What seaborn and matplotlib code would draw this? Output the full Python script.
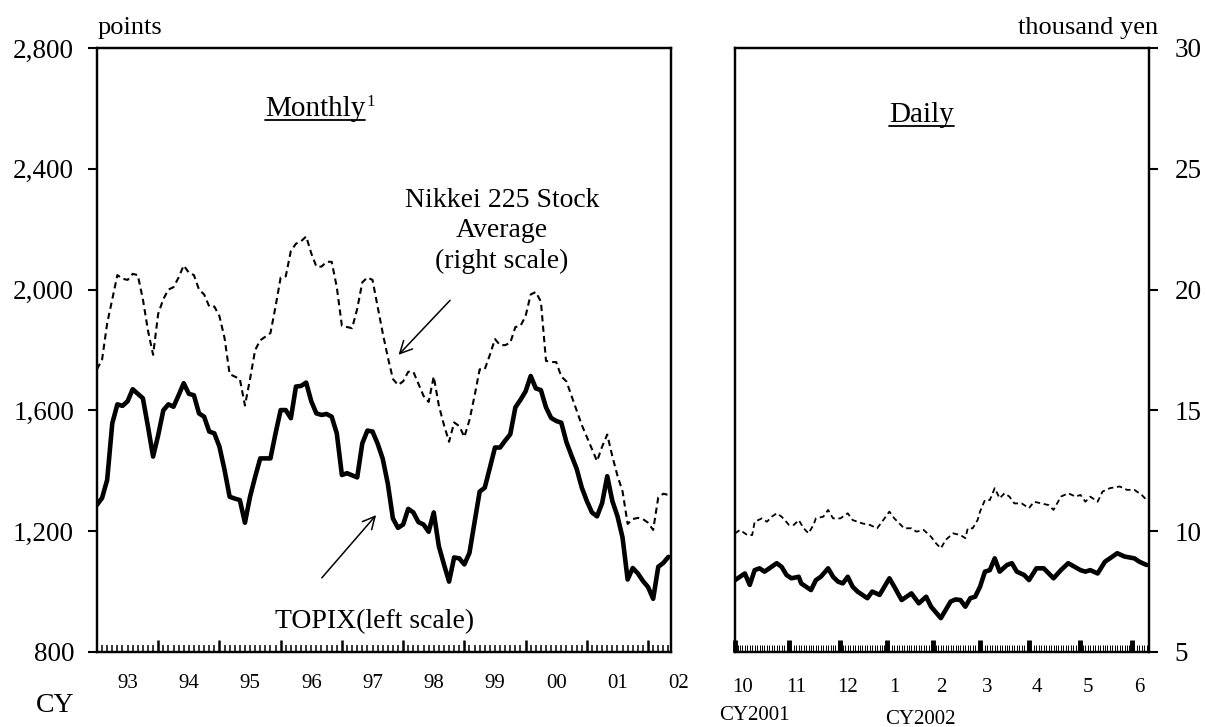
import matplotlib
matplotlib.use("Agg")
import numpy as np
import pandas as pd
import matplotlib.pyplot as plt
import seaborn as sns
from matplotlib.lines import Line2D

# ---- monthly data, Jan 1993 .. May 2002 ----
topix_monthly = [
    1287, 1310, 1370, 1557, 1620, 1615, 1630, 1670, 1655, 1640, 1546, 1447,   # 93
    1518, 1600, 1620, 1612, 1650, 1690, 1655, 1650, 1590, 1579, 1530, 1524,   # 94
    1480, 1403, 1314, 1308, 1303, 1228, 1314, 1380, 1441, 1441, 1441, 1524,   # 95
    1601, 1601, 1574, 1679, 1681, 1692, 1630, 1590, 1585, 1588, 1579, 1524,   # 96
    1386, 1392, 1385, 1378, 1491, 1533, 1530, 1490, 1440, 1357, 1242, 1211,   # 97
    1222, 1274, 1262, 1230, 1222, 1198, 1262, 1150, 1090, 1033, 1113, 1110,   # 98
    1090, 1128, 1230, 1331, 1344, 1410, 1477, 1477, 1500, 1521, 1610, 1635,   # 99
    1663, 1714, 1673, 1667, 1610, 1575, 1565, 1559, 1495, 1450, 1407, 1345,   # 00
    1300, 1262, 1249, 1293, 1382, 1300, 1250, 1179, 1040, 1078, 1060, 1035,   # 01
    1015, 976, 1082, 1095, 1115,                                              # 02
]
nikkei_monthly = [
    16.7, 17.1, 18.6, 19.6, 20.6, 20.45, 20.4, 20.65, 20.6, 19.6, 18.3, 17.3,
    19.0, 19.6, 20.0, 20.1, 20.5, 21.0, 20.7, 20.6, 20.0, 19.8, 19.3, 19.3,
    18.9, 18.0, 16.5, 16.4, 16.3, 15.2, 16.3, 17.5, 17.9, 18.05, 18.2, 19.3,
    20.5, 20.55, 21.6, 21.9, 22.0, 22.2, 21.5, 20.95, 20.95, 21.15, 21.15, 20.1,
    18.5, 18.45, 18.4, 19.2, 20.3, 20.5, 20.4, 19.3, 18.2, 17.2, 16.3, 16.05,
    16.2, 16.6, 16.6, 16.1, 15.6, 15.35, 16.4, 15.2, 14.4, 13.7, 14.5, 14.35,
    13.9, 14.6, 15.6, 16.7, 16.7, 17.3, 17.95, 17.7, 17.7, 17.8, 18.45, 18.5,
    18.9, 19.8, 19.9, 19.5, 17.05, 17.0, 17.0, 16.4, 16.2, 15.6, 15.0, 14.4,
    13.9, 13.4, 12.9, 13.5, 14.0, 13.1, 12.3, 11.65, 10.3, 10.5, 10.55, 10.5,
    10.35, 10.05, 11.4, 11.55, 11.5,
]
year_labels = ["93", "94", "95", "96", "97", "98", "99", "00", "01", "02"]

# ---- daily data, trading days from 1 Oct 2001 ----
topix_days = [0, 2, 4, 6, 8, 10, 12, 14, 17, 19, 21, 23, 26, 27, 31, 33, 35, 38,
              40, 42, 44, 46, 48, 50, 54, 56, 59, 63, 65, 68, 72, 75, 78, 80, 84,
              88, 90, 92, 94, 96, 98, 100, 102, 104, 106, 108, 111, 113, 115, 118,
              120, 123, 126, 130, 133, 136, 141, 143, 145, 148, 151, 153, 156,
              159, 163, 165, 168]
topix_daily = [1038, 1049, 1060, 1022, 1071, 1077, 1066, 1077, 1094, 1082, 1055,
               1044, 1049, 1027, 1005, 1038, 1049, 1077, 1049, 1033, 1027, 1049,
               1016, 1000, 978, 1000, 989, 1044, 1016, 972, 994, 961, 983, 950,
               912, 967, 974, 972, 950, 978, 983, 1016, 1066, 1071, 1110, 1066,
               1088, 1094, 1066, 1055, 1038, 1077, 1077, 1044, 1071, 1094, 1071,
               1066, 1071, 1060, 1099, 1110, 1127, 1116, 1110, 1099, 1088]
nikkei_days = [0, 2, 5, 7, 8, 11, 13, 15, 17, 19, 22, 24, 26, 28, 30, 32, 33, 36,
               38, 40, 43, 46, 48, 50, 52, 55, 58, 60, 63, 65, 69, 72, 74, 77, 80,
               82, 84, 86, 89, 92, 94, 95, 97, 99, 100, 102, 104, 106, 108, 110,
               112, 114, 117, 120, 122, 125, 128, 130, 133, 136, 139, 141, 143,
               145, 148, 150, 153, 157, 160, 163, 166, 168]
nikkei_daily = [9.91, 10.05, 9.84, 9.84, 10.39, 10.53, 10.39, 10.60, 10.74, 10.60,
                10.26, 10.26, 10.46, 10.12, 9.91, 10.26, 10.53, 10.60, 10.88,
                10.53, 10.53, 10.74, 10.46, 10.39, 10.32, 10.26, 10.12, 10.39,
                10.81, 10.53, 10.12, 10.12, 9.98, 10.05, 9.77, 9.50, 9.29, 9.64,
                9.91, 9.84, 9.71, 10.12, 10.12, 10.46, 10.81, 11.29, 11.29, 11.78,
                11.36, 11.57, 11.43, 11.15, 11.15, 10.95, 11.22, 11.15, 11.08,
                10.88, 11.43, 11.57, 11.43, 11.50, 11.22, 11.43, 11.22, 11.64,
                11.78, 11.85, 11.71, 11.71, 11.50, 11.29]
month_starts = [0, 22, 43, 62, 81, 100, 120, 141, 162]
month_labels = ["10", "11", "12", "1", "2", "3", "4", "5", "6"]
n_days = 169

left_ticks = [800, 1200, 1600, 2000, 2400, 2800]
right_ticks = [5, 10, 15, 20, 25, 30]

sns.set_style("white")
plt.rcParams["font.family"] = ["Liberation Serif", "DejaVu Serif"]
plt.rcParams["axes.edgecolor"] = "black"
plt.rcParams["text.color"] = "black"
plt.rcParams["xtick.color"] = "black"
plt.rcParams["ytick.color"] = "black"

monthly = pd.DataFrame({"month": np.arange(len(topix_monthly)),
                        "topix": topix_monthly, "nikkei": nikkei_monthly})
daily_t = pd.DataFrame({"day": topix_days, "topix": topix_daily})
daily_n = pd.DataFrame({"day": nikkei_days, "nikkei": nikkei_daily})

fig = plt.figure(figsize=(12.06, 7.27), dpi=100)
ax1 = fig.add_axes([0.0804, 0.1032, 0.4760, 0.8308])
ax1r = ax1.twinx()
ax2 = fig.add_axes([0.6095, 0.1032, 0.3433, 0.8308])
ax2r = ax2.twinx()

dash = (0, (3, 2))
sns.lineplot(data=monthly, x="month", y="topix", ax=ax1, color="black",
             linewidth=3.3, errorbar=None)
sns.lineplot(data=monthly, x="month", y="nikkei", ax=ax1r, color="black",
             linewidth=1.5, linestyle=dash, errorbar=None)
sns.lineplot(data=daily_t, x="day", y="topix", ax=ax2, color="black",
             linewidth=3.3, errorbar=None)
sns.lineplot(data=daily_n, x="day", y="nikkei", ax=ax2r, color="black",
             linewidth=1.3, linestyle=dash, errorbar=None)

for a in (ax1, ax2):
    a.set_ylim(left_ticks[0], left_ticks[-1])
for a in (ax1r, ax2r):
    a.set_ylim(right_ticks[0], right_ticks[-1])
ax1.set_xlim(0, len(topix_monthly) - 0.5)
ax2.set_xlim(0, n_days)

for a in (ax1, ax1r, ax2, ax2r):
    a.set_xlabel("")
    a.set_ylabel("")
    for s in a.spines.values():
        s.set_linewidth(1.6)
        s.set_color("black")

# left panel axes
ax1.set_yticks(left_ticks)
ax1.set_yticklabels([f"{v:,}" for v in left_ticks])
ax1.tick_params(axis="y", left=True, direction="out", length=6.5, width=1.5,
                pad=10, labelsize=19.5, colors="black")
ax1r.set_yticks([])
ax1.set_xticks(range(12, len(topix_monthly), 12))
ax1.set_xticks(range(0, len(topix_monthly)), minor=True)
ax1.tick_params(axis="x", which="major", bottom=True, direction="in", length=9,
                width=1.8, labelbottom=False, colors="black")
ax1.tick_params(axis="x", which="minor", bottom=True, direction="in", length=5,
                width=1.1, labelbottom=False, colors="black")
for k, lab in enumerate(year_labels):
    ax1.text(12 * k + 6, -0.052, lab, transform=ax1.get_xaxis_transform(),
             ha="center", va="center", fontsize=15, clip_on=False)

# right panel axes
ax2.set_yticks([])
ax2r.set_yticks(right_ticks)
ax2r.set_yticklabels([str(v) for v in right_ticks])
ax2r.tick_params(axis="y", right=True, direction="out", length=6.5, width=1.5,
                 pad=12, labelsize=19.5, colors="black")
ax2.set_xticks(month_starts)
ax2.set_xticks(range(0, n_days), minor=True)
ax2.tick_params(axis="x", which="major", bottom=True, direction="in", length=9,
                width=3.5, labelbottom=False, colors="black")
ax2.tick_params(axis="x", which="minor", bottom=True, direction="in", length=5,
                width=0.7, labelbottom=False, colors="black")
for pos, lab in zip(month_starts, month_labels):
    ax2.text(pos + 3, -0.058, lab, transform=ax2.get_xaxis_transform(),
             ha="center", va="center", fontsize=15, clip_on=False)

# captions
fig.text(98 / 1206, 1 - 28 / 727, "points", fontsize=19, ha="left", va="center")
fig.text(1158 / 1206, 1 - 28 / 727, "thousand yen", fontsize=19, ha="right",
         va="center")
fig.text(55 / 1206, 1 - 705 / 727, "CY", fontsize=20, ha="center", va="center")
fig.text(754 / 1206, 1 - 716 / 727, "CY2001", fontsize=15, ha="center", va="center")
fig.text(920 / 1206, 1 - 719 / 727, "CY2002", fontsize=15, ha="center", va="center")

t_month = ax1.text(0.38, 0.888, "Monthly", transform=ax1.transAxes, fontsize=21,
                   ha="center", va="baseline")
t_daily = ax2.text(0.45, 0.878, "Daily", transform=ax2.transAxes, fontsize=21,
                   ha="center", va="baseline")

ax1.text(0.7056, 0.697, "Nikkei 225 Stock\nAverage\n(right scale)",
         transform=ax1.transAxes, fontsize=20, ha="center", va="center",
         linespacing=1.3)
ax1.annotate("", xy=(0.522, 0.4886), xytext=(0.6185, 0.5856),
             xycoords="axes fraction", textcoords="axes fraction",
             arrowprops=dict(arrowstyle="->", color="black", lw=1.1,
                             mutation_scale=22))
ax1.text(0.4843, 0.0497, "TOPIX(left scale)", transform=ax1.transAxes,
         fontsize=20, ha="center", va="center")
ax1.annotate("", xy=(0.4895, 0.2301), xytext=(0.3885, 0.1192),
             xycoords="axes fraction", textcoords="axes fraction",
             arrowprops=dict(arrowstyle="->", color="black", lw=1.1,
                             mutation_scale=22))

# underline the panel titles, add footnote mark
fig.canvas.draw()
renderer = fig.canvas.get_renderer()
for t in (t_month, t_daily):
    bb = t.get_window_extent(renderer).transformed(fig.transFigure.inverted())
    base_y = t.get_transform().transform(t.get_position())[1] / fig.bbox.height
    y_line = base_y - 4 / 727
    fig.add_artist(Line2D([bb.x0, bb.x1], [y_line, y_line], color="black",
                          lw=1.3, transform=fig.transFigure))
bb = t_month.get_window_extent(renderer).transformed(fig.transFigure.inverted())
fig.text(bb.x1 + 1 / 1206, bb.y1 - 14 / 727, "1", fontsize=12, ha="left",
         va="bottom")

fig.savefig("out.png", dpi=100)
